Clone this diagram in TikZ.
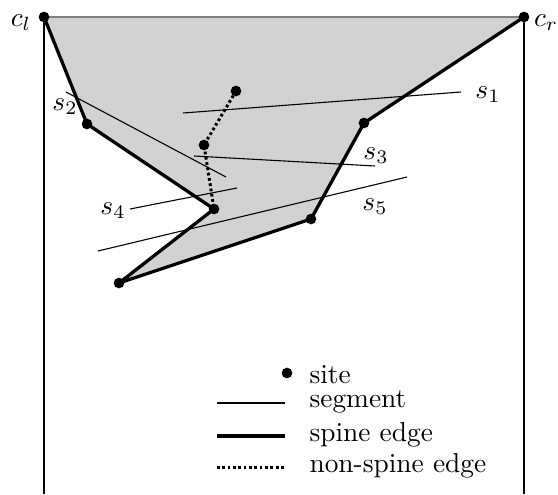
\documentclass[tikz,border=0pt]{standalone}
\begin{document}
\begin{tikzpicture}[x=0.365pt,y=-0.365pt,
  site/.style={circle,fill=black,inner sep=0pt,minimum size=3.9pt},
  seg/.style={line width=0.4pt},
  spine/.style={line width=1.2pt,line join=round},
  nonspine/.style={line width=1.1pt,dash pattern=on 1pt off 0.95pt},
  lbl/.style={inner sep=0pt}]
\useasboundingbox (0,0) rectangle (558,494);
% coordinates
\coordinate (cl) at (44,17);
\coordinate (cr) at (524,17);
\coordinate (a) at (87,124);
\coordinate (b) at (214,209);
\coordinate (c) at (119,283);
\coordinate (d) at (311,219);
\coordinate (e) at (364,123);
\coordinate (f) at (236,91);
\coordinate (g) at (204,145);
\coordinate (clb) at (44,494);
\coordinate (crb) at (524,494);
% region
\fill[gray!35] (cl) -- (a) -- (b) -- (c) -- (d) -- (e) -- (cr) -- cycle;
\draw[gray,line width=0.6pt] (cl) -- (cr);
\draw[seg] (cl) -- (clb);
\draw[seg] (cr) -- (crb);
% segments
\coordinate (s1a) at (183,113); \coordinate (s1b) at (461,92);
\coordinate (s2a) at (66,92);   \coordinate (s2b) at (226,177);
\coordinate (s3a) at (194,156); \coordinate (s3b) at (375,166);
\coordinate (s4a) at (130,209); \coordinate (s4b) at (237,188);
\coordinate (s5a) at (98,251);  \coordinate (s5b) at (407,177);
\draw[seg] (s1a) -- (s1b);
\draw[seg] (s2a) -- (s2b);
\draw[seg] (s3a) -- (s3b);
\draw[seg] (s4a) -- (s4b);
\draw[seg] (s5a) -- (s5b);
% spine
\draw[spine] (cl) -- (a) -- (b) -- (c) -- (d) -- (e) -- (cr);
\draw[nonspine] (f) -- (g) -- (b);
% sites
\foreach \p in {cl,cr,a,b,c,d,e,f,g} \node[site] (n\p) at (\p) {};
% labels
\node[lbl] (lcl) at (21,23) {$c_l$};
\node[lbl] (lcr) at (546,23) {$c_r$};
\node[lbl] (l1) at (488,95) {$s_1$};
\node[lbl] (l2) at (65,107) {$s_2$};
\node[lbl] (l3) at (376,156) {$s_3$};
\node[lbl] (l4) at (113,211) {$s_4$};
\node[lbl] (l5) at (375,207) {$s_5$};
% legend
\node[site] (legsite) at (287,373) {};
\node[lbl,anchor=west] (tsite) at (309,375) {site};
\coordinate (lsa) at (217,403); \coordinate (lsb) at (285,403);
\draw[seg] (lsa) -- (lsb);
\node[lbl,anchor=west] (tseg) at (309,402) {segment};
\coordinate (lpa) at (217,436); \coordinate (lpb) at (285,436);
\draw[spine] (lpa) -- (lpb);
\node[lbl,anchor=west] (tsp) at (309,435) {spine edge};
\coordinate (lna) at (217,467); \coordinate (lnb) at (285,467);
\draw[nonspine] (lna) -- (lnb);
\node[lbl,anchor=west] (tns) at (309,466) {non-spine edge};
\end{tikzpicture}
\end{document}
